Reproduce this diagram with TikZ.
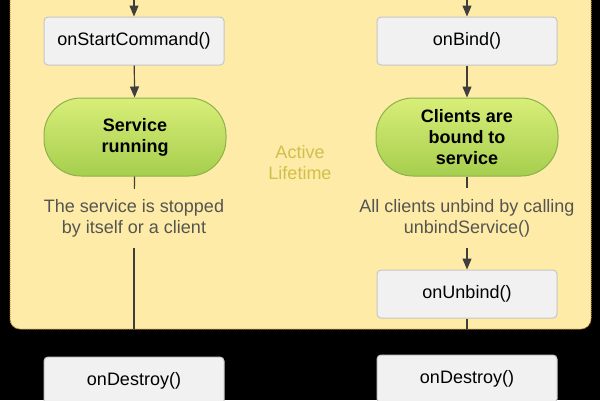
\documentclass[tikz,border=0pt]{standalone}
\usepackage{fontspec}
\setmainfont{Liberation Sans}
\usetikzlibrary{arrows.meta}
\definecolor{panelfill}{HTML}{FEEBA8}
\definecolor{panelline}{HTML}{C8943C}
\definecolor{boxfill}{HTML}{F1F1F1}
\definecolor{boxline}{HTML}{C6C6C6}
\definecolor{pilltop}{HTML}{D8EE78}
\definecolor{pillbot}{HTML}{A6CE4E}
\definecolor{pillline}{HTML}{8CB24A}
\definecolor{arrowc}{HTML}{3E3E3A}
\definecolor{notec}{HTML}{555550}
\definecolor{activec}{HTML}{D0C04A}
\tikzset{
  base/.style={font=\fontsize{18}{21}\selectfont, align=center},
  callbox/.style={base, draw=boxline, fill=boxfill, line width=1pt, rounded corners=4pt,
    minimum width=180pt, minimum height=48pt, inner sep=0pt, text=black},
  pill/.style={base, font=\fontsize{18}{21}\selectfont\bfseries, draw=pillline, line width=1pt,
    top color=pilltop, bottom color=pillbot, rounded corners=37pt,
    minimum width=182pt, minimum height=78pt, inner sep=0pt, text=black},
  note/.style={base, text=notec, minimum height=59pt, inner sep=0pt},
  arr/.style={draw=arrowc, line width=1.2pt, -{Triangle[length=11pt,width=9pt]}},
  plain/.style={draw=arrowc, line width=1.2pt},
}
\begin{document}
\begin{tikzpicture}[x=1pt,y=-1pt]
\fill[black] (0,0) rectangle (600,400);
\useasboundingbox (0,0) rectangle (600,400);
\begin{scope}
\clip (0,0) rectangle (600,400);
\draw[fill=panelfill, draw=panelline, line width=1pt, dash pattern=on 1pt off 1pt, rounded corners=10pt]
  (10,-30) rectangle (591,329);

% left column
\coordinate (ltop) at (134,-2);
\node[callbox] (start) at (134,41) {onStartCommand()};
\node[pill] (run) at (135,137) {Service\\running};
\node[note] (stop) at (134,218.5) {The service is stopped\\by itself or a client};
\coordinate (lb) at (134,329);
\node[callbox] (dl) at (134,381) {onDestroy()};

% right column
\coordinate (rtop) at (467,-2);
\node[callbox] (bind) at (467,41) {onBind()};
\node[pill] (bound) at (467,137) {Clients are\\bound to\\service};
\node[note] (unb) at (467,218) {All clients unbind by calling\\unbindService()};
\node[callbox] (unbind) at (467,294) {onUnbind()};
\coordinate (rb) at (467,329);
\node[callbox] (dr) at (467,379) {onDestroy()};

\node[base, text=activec] (act) at (300,162.5) {Active\\Lifetime};

\draw[arr] (ltop) -- (start);
\draw[arr] (start) -- (run);
\draw[plain] (run) -- (stop);
\draw[plain] (stop) -- (lb);

\draw[arr] (rtop) -- (bind);
\draw[arr] (bind) -- (bound);
\draw[plain] (bound) -- (unb);
\draw[arr] (unb) -- (unbind);
\draw[plain] (unbind) -- (rb);
\end{scope}
\end{tikzpicture}
\end{document}
